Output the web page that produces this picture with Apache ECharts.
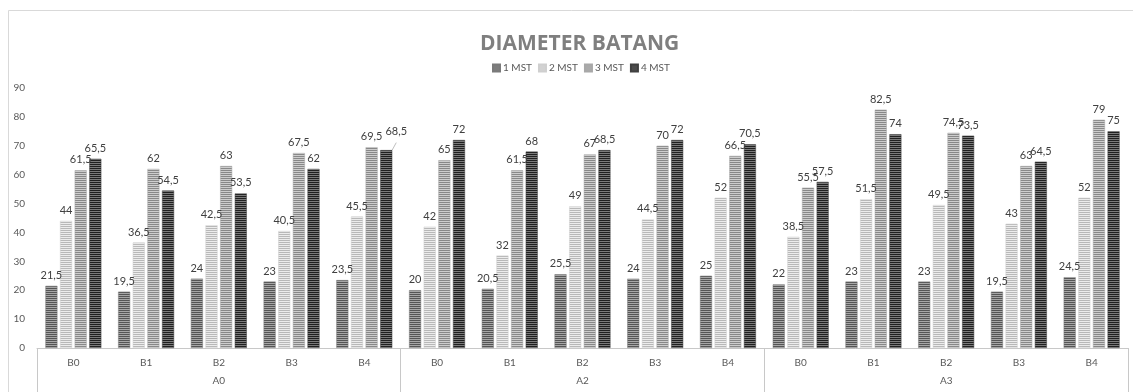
<!DOCTYPE html>
<html>
<head>
<meta charset="utf-8">
<script src="https://cdn.jsdelivr.net/npm/echarts@6/dist/echarts.min.js"></script>
<style>
  html, body { margin: 0; padding: 0; background: #fff; }
  #chart { width: 1133px; height: 392px; }
</style>
</head>
<body>
<div id="chart"></div>
<script>
// Sub-categories (B) inside each treatment group (A)
const groups = ['A0', 'A2', 'A3'];
const subLabels = ['B0', 'B1', 'B2', 'B3', 'B4'];
const categories = groups.flatMap(() => subLabels);

const seriesNames = ['1 MST', '2 MST', '3 MST', '4 MST'];
const mst1 = [21.5, 19.5, 24, 23, 23.5, 20, 20.5, 25.5, 24, 25, 22, 23, 23, 19.5, 24.5];
const mst2 = [44, 36.5, 42.5, 40.5, 45.5, 42, 32, 49, 44.5, 52, 38.5, 51.5, 49.5, 43, 52];
const mst3 = [61.5, 62, 63, 67.5, 69.5, 65, 61.5, 67, 70, 66.5, 55.5, 82.5, 74.5, 63, 79];
const mst4 = [65.5, 54.5, 53.5, 62, 68.5, 72, 68, 68.5, 72, 70.5, 57.5, 74, 73.5, 64.5, 75];
const values = [mst1, mst2, mst3, mst4];

// Horizontal-stripe fills: [line colour, gap colour]
const stripeColors = [
  ['#555555', '#a6a6a6'],
  ['#b8b8b8', '#ececec'],
  ['#888888', '#cdcdcd'],
  ['#202020', '#7a7a7a']
];
const borderColors = ['#7a7a7a', '#cfcfcf', '#a8a8a8', '#404040'];

function stripes(fg, bg) {
  const c = document.createElement('canvas');
  c.width = 4; c.height = 2;
  const ctx = c.getContext('2d');
  ctx.fillStyle = bg; ctx.fillRect(0, 0, 4, 2);
  ctx.fillStyle = fg; ctx.fillRect(0, 0, 4, 1);
  return { image: c, repeat: 'repeat' };
}

const fmt = v => String(v).replace('.', ',');
const font = 'Lato, "Open Sans", sans-serif';

const series = values.map((arr, si) => ({
  name: seriesNames[si],
  type: 'bar',
  xAxisIndex: 0,
  barWidth: 12,
  barGap: '22%',
  itemStyle: {
    color: stripes(stripeColors[si][0], stripeColors[si][1]),
    borderColor: borderColors[si],
    borderWidth: 0.5
  },
  label: {
    show: true,
    position: 'top',
    distance: 5,
    color: '#404040',
    fontSize: 11,
    fontFamily: font,
    formatter: p => fmt(p.value)
  },
  data: arr.map((v, i) => {
    // A0-B4 4 MST label is pulled aside with a leader line
    if (si === 3 && i === 4) {
      return {
        value: v,
        label: { offset: [10, -8] },
        labelLine: { show: true, lineStyle: { color: '#bfbfbf', width: 1 } }
      };
    }
    return v;
  })
}));

const chart = echarts.init(document.getElementById('chart'), null, { renderer: 'canvas' });
chart.setOption({
  animation: false,
  backgroundColor: '#fff',
  title: {
    text: 'DIAMETER BATANG',
    left: 475,
    top: 29,
    textStyle: {
      fontFamily: '"Open Sans", sans-serif',
      fontWeight: 'bold',
      fontSize: 21,
      color: '#7f7f7f'
    }
  },
  legend: {
    top: 58,
    left: 487,
    icon: 'rect',
    itemWidth: 7,
    itemHeight: 7,
    itemGap: 6,
    textStyle: { fontSize: 10, color: '#595959', fontFamily: font, padding: [0, 0, 0, -2] },
    data: seriesNames
  },
  graphic: [{
    type: 'rect',
    shape: { x: 8.5, y: 10.5, width: 1140, height: 400 },
    style: { fill: 'none', stroke: '#d9d9d9', lineWidth: 1 },
    silent: true,
    z: -1
  }],
  grid: { left: 37, right: 5, top: 88, bottom: 44, containLabel: false },
  xAxis: [
    {
      type: 'category',
      data: categories,
      position: 'bottom',
      axisLine: { show: true, lineStyle: { color: '#c8c8c8', width: 1 } },
      axisTick: { show: false },
      axisLabel: { margin: 10, fontSize: 10, color: '#595959', fontFamily: font, interval: 0 }
    },
    {
      type: 'category',
      data: groups,
      position: 'bottom',
      axisLine: { show: false },
      axisTick: { show: true, length: 46, interval: 0, lineStyle: { color: '#c8c8c8', width: 1 } },
      axisLabel: { margin: 28, fontSize: 10, color: '#595959', fontFamily: font, interval: 0 },
      splitLine: { show: false }
    }
  ],
  yAxis: {
    type: 'value',
    min: 0,
    max: 90,
    interval: 10,
    axisLine: { show: false },
    axisTick: { show: false },
    splitLine: { show: false },
    axisLabel: { margin: 12, fontSize: 10, color: '#595959', fontFamily: font }
  },
  series
});
</script>
</body>
</html>
